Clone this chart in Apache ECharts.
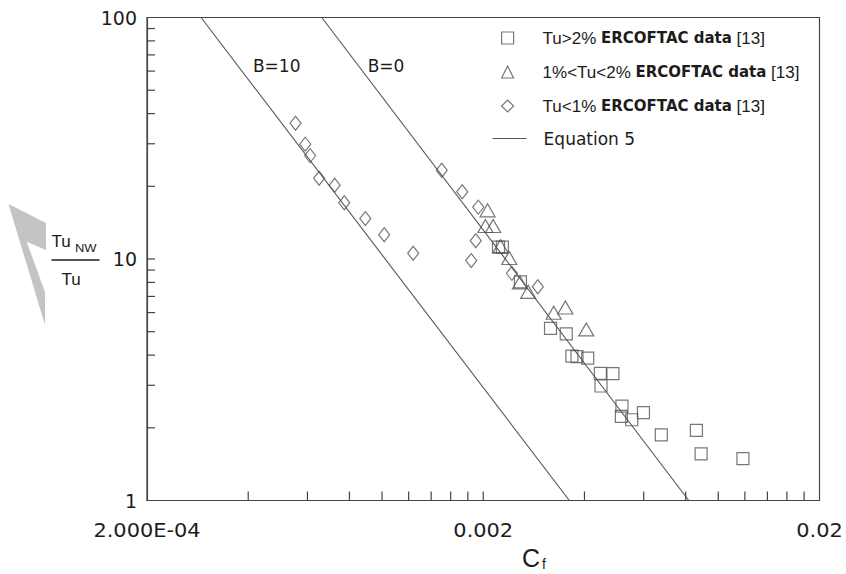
<!DOCTYPE html>
<html>
<head>
<meta charset="utf-8">
<title>Tu_NW/Tu versus Cf</title>
<script src="https://cdn.jsdelivr.net/npm/echarts/dist/echarts.min.js"></script>
<style>
  html, body { margin: 0; padding: 0; background: #ffffff; }
  #chart { width: 846px; height: 574px; }
</style>
</head>
<body>
<div id="chart"></div>
<script>
// Freestream turbulence data, Tu_NW/Tu against skin friction coefficient Cf
const tuHigh = [ // Tu>2%
  [2.22e-3, 11.2], [2.28e-3, 11.2], [2.58e-3, 8.04], [3.17e-3, 5.16], [3.53e-3, 4.90],
  [3.67e-3, 3.96], [3.80e-3, 3.94], [4.09e-3, 3.89], [4.46e-3, 3.36], [4.86e-3, 3.35],
  [4.48e-3, 2.98], [5.17e-3, 2.46], [5.99e-3, 2.31], [5.15e-3, 2.23], [5.53e-3, 2.16],
  [6.77e-3, 1.87], [8.61e-3, 1.95], [8.89e-3, 1.56], [1.184e-2, 1.49]
];
const tuMid = [ // 1%<Tu<2%
  [2.06e-3, 15.9], [2.03e-3, 13.7], [2.14e-3, 13.7], [2.25e-3, 11.3], [2.39e-3, 10.1],
  [2.57e-3, 8.0], [2.72e-3, 7.31], [3.24e-3, 5.99], [3.51e-3, 6.30], [4.05e-3, 5.11]
];
const tuLow = [ // Tu<1%
  [5.53e-4, 36.5], [5.91e-4, 29.9], [6.11e-4, 26.8], [6.50e-4, 21.6], [7.23e-4, 20.2],
  [7.72e-4, 17.1], [8.92e-4, 14.7], [1.015e-3, 12.6], [1.238e-3, 10.56], [1.505e-3, 23.3],
  [1.732e-3, 19.0], [1.933e-3, 16.4], [1.90e-3, 11.9], [1.842e-3, 9.85], [2.434e-3, 8.72],
  [2.906e-3, 7.68]
];
// Equation 5 for the two B values (straight lines on log-log axes)
const eqB10 = [[2.896e-4, 100], [3.606e-3, 1]];
const eqB0 = [[6.62e-4, 100], [8.17e-3, 1]];

// Axis ranges, tick positions and tick labels
const xRange = [2e-4, 0.02];
const yRange = [1, 100];
const xTicks = [4e-4, 6e-4, 8e-4, 1e-3, 1.2e-3, 1.4e-3, 1.6e-3, 1.8e-3, 2e-3,
                4e-3, 6e-3, 8e-3, 1e-2, 1.2e-2, 1.4e-2, 1.6e-2, 1.8e-2];
const yTicks = [2, 3, 4, 5, 6, 7, 8, 9, 10, 20, 30, 40, 50, 60, 70, 80, 90];
const xLabelValues = [2e-4, 2e-3, 2e-2];
const xLabelTexts = ['2.000E-04', '0.002', '0.02'];

const seriesNames = ['Tu>2% ERCOFTAC data [13]', '1%<Tu<2% ERCOFTAC data [13]', 'Tu<1% ERCOFTAC data [13]'];
const eqName = 'Equation 5';

const INK = '#1c1c1c';
const MARK = '#555555';
const AXIS = '#444444';

const chart = echarts.init(document.getElementById('chart'), null, { renderer: 'svg' });

function markerSeries(name, data, symbol, size) {
  return {
    name, type: 'scatter', data, symbol, symbolSize: size,
    itemStyle: { color: 'rgba(255,255,255,0)', borderColor: MARK, borderWidth: 1.2 },
    emphasis: { disabled: true }, silent: true, z: 4
  };
}
function eqSeries(data) {
  return {
    name: eqName, type: 'line', data, symbol: 'none', clip: true,
    itemStyle: { color: MARK },
    lineStyle: { color: MARK, width: 1.1 }, emphasis: { disabled: true }, silent: true, z: 3
  };
}

const legendRich = {
  sp: { width: 24 },
  m: { fontFamily: 'Liberation Sans', fontSize: 17, color: INK },
  e: { fontFamily: 'DejaVu Sans', fontWeight: 'bold', fontSize: 15, color: INK },
  r: { fontFamily: 'Liberation Sans', fontSize: 17, color: INK },
  sp2: { width: 12 },
  q: { fontFamily: 'DejaVu Sans', fontSize: 17, color: INK }
};

const option = {
  backgroundColor: '#ffffff',
  animation: false,
  grid: {
    left: 147, right: 26.5, top: 17.5, bottom: 73.5,
    show: true, borderColor: AXIS, borderWidth: 1.2, backgroundColor: 'transparent'
  },
  xAxis: {
    type: 'log', logBase: 10, min: xRange[0], max: xRange[1],
    axisLine: { show: true, lineStyle: { color: AXIS, width: 1.2 } },
    axisTick: { show: false }, axisLabel: { show: false }, splitLine: { show: false }
  },
  yAxis: {
    type: 'log', logBase: 10, min: yRange[0], max: yRange[1],
    axisLine: { show: true, lineStyle: { color: AXIS, width: 1.2 } },
    axisTick: { show: false }, splitLine: { show: false },
    axisLabel: { margin: 10, color: INK, fontFamily: 'DejaVu Sans', fontSize: 19 }
  },
  legend: [
    {
      data: seriesNames, orient: 'vertical', left: 501, top: 29.5, padding: 0,
      itemGap: 17, itemWidth: 12, itemHeight: 12, selectedMode: false,
      itemStyle: { borderWidth: 1.2, borderColor: MARK, color: 'rgba(255,255,255,0)' },
      textStyle: { rich: legendRich },
      formatter: function (name) {
        const m = name.match(/^(.*?) (ERCOFTAC data) (\[13\])$/);
        return '{sp| }{m|' + m[1] + ' }{e|' + m[2] + '}{r| ' + m[3] + '}';
      }
    },
    {
      data: [eqName], orient: 'vertical', left: 492, top: 130, padding: 0,
      itemWidth: 34, itemHeight: 12, selectedMode: false,
      itemStyle: { color: 'rgba(0,0,0,0)', borderWidth: 0, opacity: 0 },
      lineStyle: { width: 1.2, color: MARK },
      textStyle: { rich: legendRich },
      formatter: function (name) { return '{sp2| }{q|' + name + '}'; }
    }
  ],
  graphic: [
    { // grey wedge at the left margin
      type: 'polygon', z: 1,
      shape: { points: [[8.5, 204], [46, 223], [46, 250], [26.7, 241.7], [45, 292], [45, 325]] },
      style: { fill: '#c4c4c4' }
    },
    { type: 'text', x: 276.7, y: 66, style: { text: 'B=10', font: '17px "DejaVu Sans"', fill: INK, align: 'center', verticalAlign: 'middle' } },
    { type: 'text', x: 386, y: 66, style: { text: 'B=0', font: '17px "DejaVu Sans"', fill: INK, align: 'center', verticalAlign: 'middle' } },
    // y-axis title as a fraction Tu_NW / Tu
    { type: 'text', x: 51.5, y: 241, style: { text: 'Tu', font: '17px "Liberation Sans"', fill: INK, align: 'left', verticalAlign: 'middle' } },
    { type: 'text', x: 75, y: 248.5, scaleX: 1.3, style: { text: 'NW', font: '10px "Liberation Sans"', fill: INK, align: 'left', verticalAlign: 'middle' } },
    { type: 'line', shape: { x1: 51.5, y1: 260, x2: 99.5, y2: 260 }, style: { stroke: INK, lineWidth: 1.3 } },
    { type: 'text', x: 71, y: 279, style: { text: 'Tu', font: '17px "Liberation Sans"', fill: INK, align: 'center', verticalAlign: 'middle' } },
    // x-axis title C_f
    { type: 'text', x: 531, y: 558, style: { text: 'C', font: '25px "Liberation Sans"', fill: INK, align: 'center', verticalAlign: 'middle' } },
    { type: 'text', x: 542, y: 564, style: { text: 'f', font: '14px "Liberation Sans"', fill: INK, align: 'left', verticalAlign: 'middle' } }
  ],
  series: [
    markerSeries(seriesNames[0], tuHigh, 'rect', [12, 12]),
    markerSeries(seriesNames[1], tuMid, 'triangle', [15, 13]),
    markerSeries(seriesNames[2], tuLow, 'diamond', [11, 14]),
    eqSeries(eqB10),
    eqSeries(eqB0),
    { // ticks along the bottom axis, pointing into the plot
      type: 'custom', silent: true, z: 5,
      data: xTicks.map(v => [v, yRange[0]]),
      renderItem: function (params, api) {
        const p = api.coord([api.value(0), yRange[0]]);
        return { type: 'line', shape: { x1: p[0], y1: p[1], x2: p[0], y2: p[1] - 9 },
                 style: { stroke: AXIS, lineWidth: 1.2 } };
      }
    },
    { // ticks along the left axis, pointing into the plot
      type: 'custom', silent: true, z: 5,
      data: yTicks.map(v => [xRange[0], v]),
      renderItem: function (params, api) {
        const p = api.coord([xRange[0], api.value(1)]);
        return { type: 'line', shape: { x1: p[0], y1: p[1], x2: p[0] + 8, y2: p[1] },
                 style: { stroke: AXIS, lineWidth: 1.2 } };
      }
    },
    { // bottom axis labels
      type: 'custom', silent: true, z: 5,
      data: xLabelValues.map(v => [v, yRange[0]]),
      renderItem: function (params, api) {
        const p = api.coord([api.value(0), yRange[0]]);
        return { type: 'text', x: p[0], y: p[1] + 29.5, scaleX: 1.1,
                 style: { text: xLabelTexts[params.dataIndex], font: '19px "DejaVu Sans"', fill: INK,
                          align: 'center', verticalAlign: 'middle' } };
      }
    }
  ]
};

chart.setOption(option);
</script>
</body>
</html>
